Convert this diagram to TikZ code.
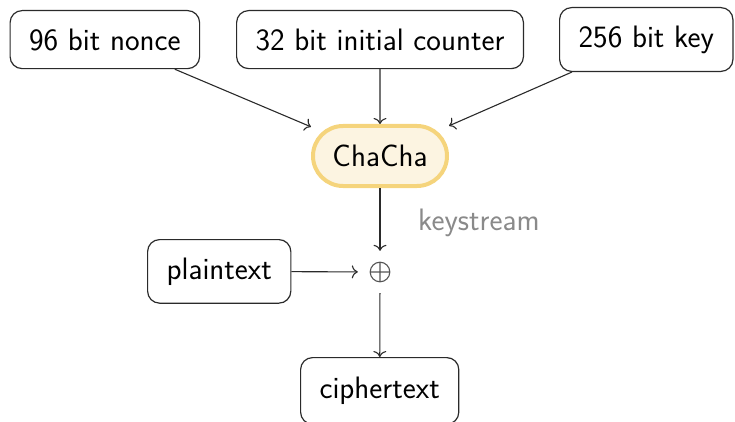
\documentclass[tikz,border=0pt]{standalone}
\usetikzlibrary{arrows.meta}
\definecolor{linegray}{HTML}{2A2A2A}
\definecolor{xorgray}{HTML}{555555}
\definecolor{labelgray}{HTML}{8A8A8A}
\definecolor{chachaborder}{HTML}{F5D47C}
\definecolor{chachafill}{HTML}{FCF4E1}
\begin{document}
\begin{tikzpicture}[x=1pt,y=-1pt,
  every node/.style={font=\sffamily\fontsize{31}{37}\selectfont, text=black},
  inbox/.style={draw=linegray, line width=1.2pt, rounded corners=12pt,
    inner xsep=19pt, inner ysep=18pt, anchor=north west},
  cipherbox/.style={draw=chachaborder, fill=chachafill, line width=4pt,
    rounded corners=30pt, minimum width=134pt, minimum height=60pt, inner sep=0pt},
  link/.style={draw=linegray, line width=1.1pt, -{To[length=6pt,width=13pt]}}
]
\useasboundingbox (0,0) rectangle (735,422);

\node[inbox] (nonce) at (9.5,10) {96 bit nonce};
\node[inbox] (counter) at (236,10) {32 bit initial counter};
\node[inbox] (key) at (559,7) {256 bit key};
\node[cipherbox] (chacha) at (380,156) {ChaCha};
% XOR symbol: an empty node holding a circled plus
\node[inner sep=0pt, minimum width=44pt, minimum height=42pt] (xor) at (380,272) {};
\draw[xorgray, line width=1.1pt] (xor.center) circle[radius=9.8pt]
  (xor.center) ++(-9.8,0) -- ++(19.6,0)
  (xor.center) ++(0,-9.8) -- ++(0,19.6);
\node[inbox] (plain) at (147,239) {plaintext};
\node[inbox, inner ysep=19.5pt] (cipher) at (300,357) {ciphertext};
\node[anchor=base west, text=labelgray, inner sep=0pt] (ks) at (418,230) {keystream};

\draw[link] (nonce) -- (chacha);
\draw[link] (counter) -- (chacha);
\draw[link] (key) -- (chacha);
\draw[link] (chacha) -- (xor);
\draw[link] (plain) -- (xor);
\draw[link] (xor) -- (cipher);
\end{tikzpicture}
\end{document}
